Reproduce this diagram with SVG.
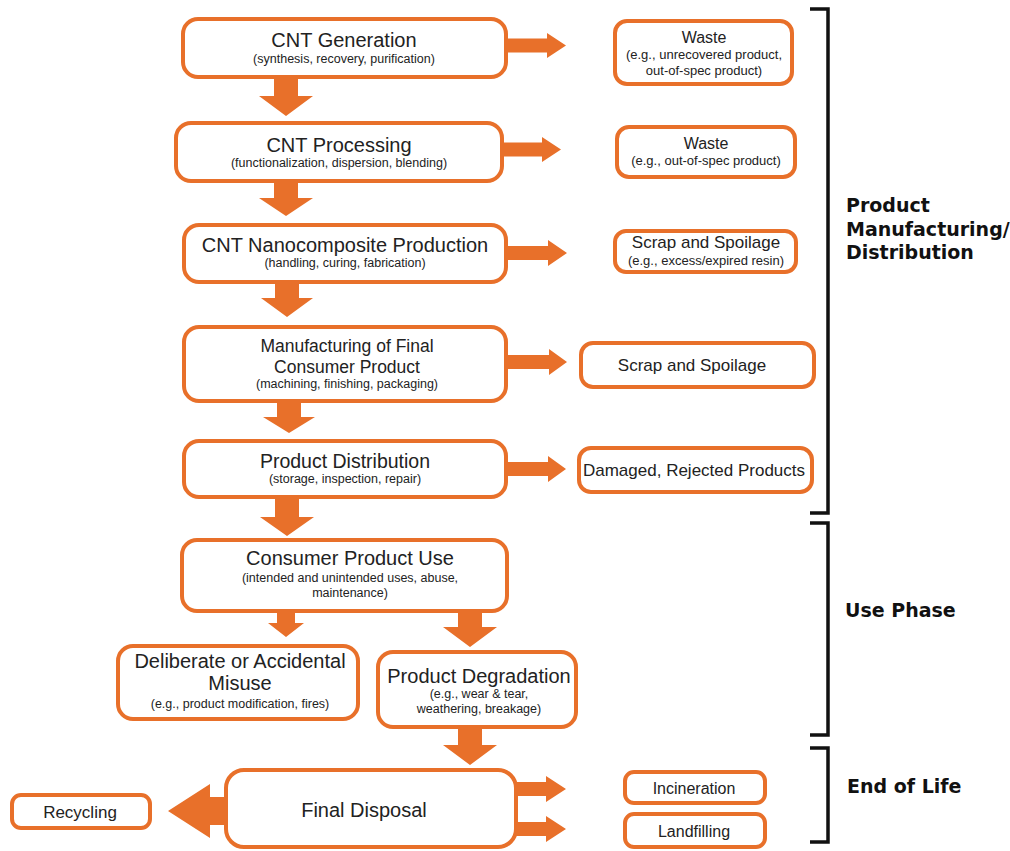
<svg xmlns="http://www.w3.org/2000/svg" width="1010" height="851" viewBox="0 0 1010 851">
<style>
.box{fill:#fff;stroke:#E8702A;stroke-width:4}
.arr{fill:#E8702A}
.t{font-family:"Liberation Sans",Arial,sans-serif;fill:#222;text-anchor:middle}
.h{font-size:20px}
.s{font-size:12.5px}
.r{font-size:16px}
.rs{font-size:13px}
.m{font-size:17px}
.lab{font-family:"DejaVu Sans",sans-serif;font-weight:bold;font-size:19px;fill:#111}
.br{fill:none;stroke:#111;stroke-width:3.5}
</style>
<rect width="1010" height="851" fill="#fff"/>
<g id="connectors">
<polygon class="arr" points="505,38.5 547,38.5 547,33 566,45.5 547,58 547,52.5 505,52.5"/>
<polygon class="arr" points="501,142.5 542,142.5 542,137 561,149.5 542,162 542,156.5 501,156.5"/>
<polygon class="arr" points="505,246 548,246 548,240 567,253 548,266 548,260 505,260"/>
<polygon class="arr" points="505,355 549,355 549,349 567,362 549,375 549,369 505,369"/>
<polygon class="arr" points="505,462 548,462 548,456 566,469 548,482 548,476 505,476"/>
<polygon class="arr" points="274,77 298,77 298,96 313,96 286,116 259,96 274,96"/>
<polygon class="arr" points="274,181 298,181 298,198 313,198 286,216 259,198 274,198"/>
<polygon class="arr" points="275,281 299,281 299,298 313,298 287,317 261,298 275,298"/>
<polygon class="arr" points="277,401 301,401 301,417 315,417 289,433 263,417 277,417"/>
<polygon class="arr" points="275,496 299,496 299,517 314,517 287,536 260,517 275,517"/>
<polygon class="arr" points="277,610 295,610 295,623 304,623 286,637 268,623 277,623"/>
<polygon class="arr" points="458,610 482,610 482,627 497,627 470,647 443,627 458,627"/>
<polygon class="arr" points="458,726 482,726 482,745 497,745 470,765 443,745 458,745"/>
<polygon class="arr" points="515,782 546,782 546,776 566,789 546,802 546,796 515,796"/>
<polygon class="arr" points="515,822 546,822 546,816 566,829 546,842 546,836 515,836"/>
<polygon class="arr" points="228,797 210,797 210,784 168,811 210,838 210,825 228,825"/>
</g>
<g id="n1"><rect class="box" x="183" y="19" width="323" height="58" rx="15"/>
<text class="t h" x="344" y="47">CNT Generation</text>
<text class="t s" x="344" y="63">(synthesis, recovery, purification)</text></g>
<g id="n2"><rect class="box" x="176" y="123" width="326" height="58" rx="15"/>
<text class="t h" x="339" y="152">CNT Processing</text>
<text class="t s" x="339" y="167">(functionalization, dispersion, blending)</text></g>
<g id="n3"><rect class="box" x="184" y="225" width="322" height="57" rx="15"/>
<text class="t h" x="345" y="252">CNT Nanocomposite Production</text>
<text class="t s" x="345" y="267">(handling, curing, fabrication)</text></g>
<g id="n4"><rect class="box" x="184" y="327" width="322" height="74" rx="15"/>
<text class="t" style="font-size:17.5px" x="347" y="352">Manufacturing of Final</text>
<text class="t" style="font-size:17.5px" x="347" y="373">Consumer Product</text>
<text class="t s" x="347" y="388">(machining, finishing, packaging)</text></g>
<g id="n5"><rect class="box" x="184" y="441" width="322" height="56" rx="15"/>
<text class="t" style="font-size:19.5px" x="345" y="468">Product Distribution</text>
<text class="t s" x="345" y="483">(storage, inspection, repair)</text></g>
<g id="n6"><rect class="box" x="182" y="540" width="325" height="71" rx="15"/>
<text class="t h" x="350" y="565">Consumer Product Use</text>
<text class="t s" x="350" y="582">(intended and unintended uses, abuse,</text>
<text class="t s" x="350" y="597">maintenance)</text></g>
<g id="n7"><rect class="box" x="118" y="646" width="240" height="73" rx="15"/>
<text class="t h" x="240" y="668">Deliberate or Accidental</text>
<text class="t h" x="240" y="690">Misuse</text>
<text class="t s" x="240" y="708">(e.g., product modification, fires)</text></g>
<g id="n8"><rect class="box" x="378" y="652" width="198" height="75" rx="15"/>
<text class="t h" x="479" y="683">Product Degradation</text>
<text class="t s" x="479" y="698">(e.g., wear &amp; tear,</text>
<text class="t s" x="479" y="713">weathering, breakage)</text></g>
<g id="n9"><rect class="box" x="226" y="770" width="290" height="77" rx="18"/>
<text class="t h" x="364" y="817">Final Disposal</text></g>
<g id="w1"><rect class="box" x="615" y="21" width="177" height="63" rx="12"/>
<text class="t r" x="704" y="43">Waste</text>
<text class="t rs" x="704" y="59">(e.g., unrecovered product,</text>
<text class="t rs" x="704" y="75">out-of-spec product)</text></g>
<g id="w2"><rect class="box" x="617" y="127" width="178" height="50" rx="12"/>
<text class="t r" x="706" y="149">Waste</text>
<text class="t rs" x="706" y="165">(e.g., out-of-spec product)</text></g>
<g id="w3"><rect class="box" x="615" y="231" width="181" height="41" rx="11"/>
<text class="t m" x="706" y="248">Scrap and Spoilage</text>
<text class="t rs" x="706" y="265">(e.g., excess/expired resin)</text></g>
<g id="w4"><rect class="box" x="581" y="343" width="233" height="44" rx="12"/>
<text class="t m" x="692" y="371">Scrap and Spoilage</text></g>
<g id="w5"><rect class="box" x="579" y="448" width="233" height="44" rx="12"/>
<text class="t m" x="694" y="476">Damaged, Rejected Products</text></g>
<g id="inc"><rect class="box" x="625" y="772" width="140" height="31" rx="9"/>
<text class="t r" x="694" y="794">Incineration</text></g>
<g id="land"><rect class="box" x="625" y="814" width="140" height="33" rx="9"/>
<text class="t r" x="694" y="837">Landfilling</text></g>
<g id="rec"><rect class="box" x="12" y="795" width="138" height="33" rx="9"/>
<text class="t m" x="80" y="818">Recycling</text></g>
<g id="brackets">
<path class="br" d="M810,9 H828 V513 H810"/>
<path class="br" d="M810,523 H828 V735 H810"/>
<path class="br" d="M810,748 H828 V842 H810"/>
<text class="lab" x="846" y="212">Product</text>
<text class="lab" x="846" y="236">Manufacturing/</text>
<text class="lab" x="846" y="259">Distribution</text>
<text class="lab" x="845" y="617">Use Phase</text>
<text class="lab" x="847" y="793">End of Life</text>
</g>
</svg>
